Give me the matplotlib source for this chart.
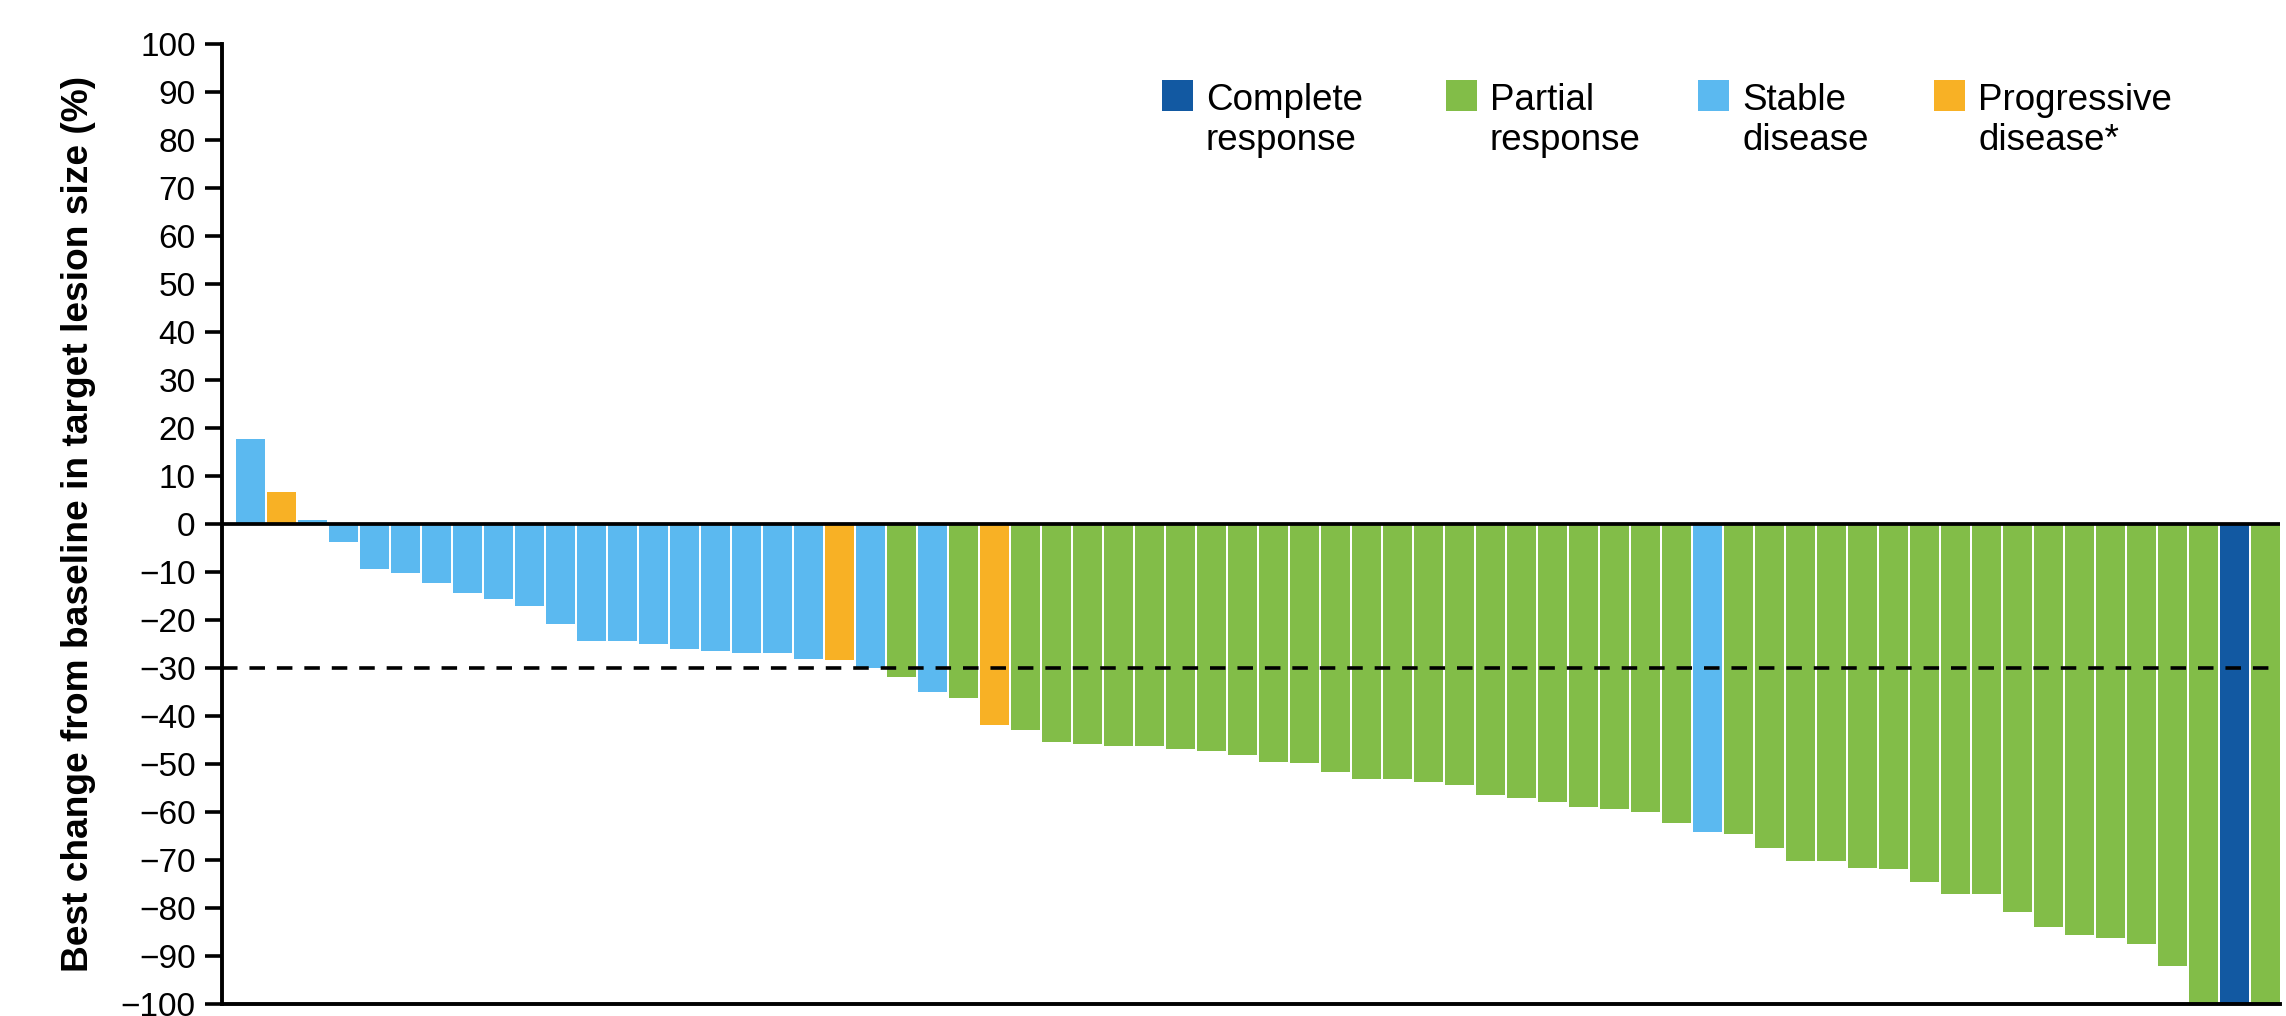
import matplotlib
matplotlib.use("Agg")
import matplotlib.pyplot as plt
from matplotlib.patches import Rectangle

# best percentage change in target lesion size, one entry per patient (sorted)
best_change = [
    17.7, 6.5, 0.8, -3.9, -9.4, -10.3, -12.4, -14.5, -15.8, -17.2,
    -21.0, -24.5, -24.5, -25.1, -26.2, -26.6, -27.0, -27.0, -28.3, -28.5,
    -30.2, -31.9, -35.2, -36.3, -41.9, -43.0, -45.5, -45.9, -46.3, -46.3,
    -46.9, -47.3, -48.2, -49.6, -49.8, -51.7, -53.2, -53.2, -53.8, -54.4,
    -56.5, -57.1, -58.0, -59.1, -59.4, -60.1, -62.4, -64.3, -64.7, -67.6,
    -70.4, -70.4, -71.8, -72.0, -74.7, -77.2, -77.2, -81.0, -84.1, -85.8,
    -86.4, -87.6, -92.1, -100.0, -100.0, -100.0,
]
# best overall response: CR, PR, SD, PD
response = (
    ["SD", "PD"] + ["SD"] * 17 + ["PD", "SD", "PR", "SD", "PR", "PD"]
    + ["PR"] * 22 + ["SD"] + ["PR"] * 16 + ["CR", "PR"]
)

categories = ["CR", "PR", "SD", "PD"]
category_labels = [
    "Complete\nresponse",
    "Partial\nresponse",
    "Stable\ndisease",
    "Progressive\ndisease*",
]
colors = {"CR": "#1259A2", "PR": "#82BD48", "SD": "#5BB9F0", "PD": "#F8B125"}

y_ticks = list(range(-100, 101, 10))
threshold = -30

plt.rcParams["font.family"] = ["Liberation Sans", "DejaVu Sans"]

W, H = 2286, 1016
fig = plt.figure(figsize=(W / 100, H / 100), dpi=100)
ax = fig.add_axes([222 / W, 12.5 / H, (2280 - 222) / W, 960 / H])

x = range(len(best_change))
ax.bar(x, best_change, width=0.935, color=[colors[r] for r in response],
       linewidth=0, zorder=2)
ax.axhline(0, color="black", lw=2.7, zorder=3)
ax.axhline(threshold, color="black", lw=2.6, dashes=(4.3, 3.3), zorder=3)

ax.set_xlim(-0.92, len(best_change) - 0.533)
ax.set_ylim(-100, 100)
ax.set_yticks(y_ticks)
ax.set_xticks([])
ax.tick_params(axis="y", length=12, width=2.6, pad=7, labelsize=24)
for side in ("top", "right"):
    ax.spines[side].set_visible(False)
for side in ("left", "bottom"):
    ax.spines[side].set_linewidth(2.8)

ax.set_ylabel("Best change from baseline in target lesion size (%)",
              fontsize=26.7, fontweight="bold")
ax.yaxis.set_label_coords(-0.061, 0.5)

# legend: square swatch + two-line caption per response category
swatch_x = [1162, 1446, 1698, 1934]
for sx, cat, lab in zip(swatch_x, categories, category_labels):
    fig.add_artist(Rectangle((sx / W, 1 - 111 / H), 31 / W, 31 / H,
                             transform=fig.transFigure, color=colors[cat],
                             linewidth=0))
    # baseline alignment of a two-line text pins the second line
    fig.text((sx + 44) / W, 1 - 150 / H, lab, fontsize=26.5, ha="left",
             va="baseline", linespacing=1.2)

fig.savefig("out.png", dpi=100)
